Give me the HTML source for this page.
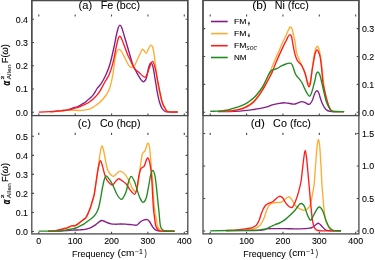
<!DOCTYPE html>
<html><head><meta charset="utf-8"><style>
html,body{margin:0;padding:0;background:#fff;}
body{width:375px;height:260px;overflow:hidden;}
svg{display:block;will-change:transform;}
text{font-family:"Liberation Sans",sans-serif;fill:#000;stroke:#000;stroke-width:0.06px;}
.tk{font-size:9.50px;stroke-width:0.1px;}
</style></head><body>
<svg width="375" height="260" viewBox="0 0 375 260">
<path d="M38.80 115.60V113.40 M38.80 14.40V16.60 M75.17 115.60V113.40 M75.17 14.40V16.60 M111.54 115.60V113.40 M111.54 14.40V16.60 M147.91 115.60V113.40 M147.91 14.40V16.60 M184.28 115.60V113.40 M184.28 14.40V16.60 M31.80 112.30H34.00 M187.80 112.30H185.60 M31.80 89.05H34.00 M187.80 89.05H185.60 M31.80 65.80H34.00 M187.80 65.80H185.60 M31.80 42.55H34.00 M187.80 42.55H185.60 M31.80 19.30H34.00 M187.80 19.30H185.60" stroke="#4a4a4a" stroke-width="1.1" fill="none"/>
<path d="M50.00 111.70 C51.00 111.62 54.00 111.38 56.00 111.20 C58.00 111.02 60.33 110.78 62.00 110.60 C63.67 110.42 64.53 110.37 66.00 110.10 C67.47 109.83 69.47 109.42 70.80 109.00 C72.13 108.58 72.92 107.97 74.00 107.60 C75.08 107.23 76.38 107.12 77.30 106.80 C78.22 106.48 78.78 106.12 79.50 105.70 C80.22 105.28 80.90 104.72 81.60 104.30 C82.30 103.88 83.05 103.55 83.70 103.20 C84.35 102.85 84.95 102.62 85.50 102.20 C86.05 101.78 86.22 101.38 87.00 100.70 C87.78 100.02 89.13 99.12 90.20 98.10 C91.27 97.08 92.53 95.72 93.40 94.60 C94.27 93.48 94.73 92.48 95.40 91.40 C96.07 90.32 96.57 89.23 97.40 88.10 C98.23 86.97 99.47 85.87 100.40 84.60 C101.33 83.33 102.10 82.10 103.00 80.50 C103.90 78.90 104.88 77.00 105.80 75.00 C106.72 73.00 107.67 70.83 108.50 68.50 C109.33 66.17 109.92 64.42 110.80 61.00 C111.68 57.58 112.90 52.17 113.80 48.00 C114.70 43.83 115.47 39.33 116.20 36.00 C116.93 32.67 117.58 29.80 118.20 28.00 C118.82 26.20 119.32 25.27 119.90 25.20 C120.48 25.13 120.97 25.80 121.70 27.60 C122.43 29.40 123.30 32.68 124.30 36.00 C125.30 39.32 126.37 42.97 127.70 47.50 C129.03 52.03 131.17 59.75 132.30 63.20 C133.43 66.65 133.45 66.08 134.50 68.20 C135.55 70.32 137.20 73.67 138.60 75.90 C140.00 78.13 141.63 81.15 142.90 81.60 C144.17 82.05 145.20 81.08 146.20 78.60 C147.20 76.12 148.10 69.32 148.90 66.70 C149.70 64.08 150.28 62.72 151.00 62.90 C151.72 63.08 152.38 64.28 153.20 67.80 C154.02 71.32 155.20 79.83 155.90 84.00 C156.60 88.17 156.78 89.72 157.40 92.80 C158.02 95.88 158.77 99.80 159.60 102.50 C160.43 105.20 161.40 107.47 162.40 109.00 C163.40 110.53 164.33 111.17 165.60 111.70 C166.87 112.23 167.97 112.12 170.00 112.20 C172.03 112.28 176.50 112.20 177.80 112.20" stroke="#851c88" stroke-width="1.35" fill="none" stroke-linejoin="round" stroke-linecap="butt"/>
<path d="M50.00 111.80 C51.00 111.73 54.00 111.57 56.00 111.40 C58.00 111.23 60.33 110.98 62.00 110.80 C63.67 110.62 64.53 110.43 66.00 110.30 C67.47 110.17 69.30 109.98 70.80 110.00 C72.30 110.02 73.63 110.32 75.00 110.40 C76.37 110.48 77.50 110.53 79.00 110.50 C80.50 110.47 82.67 110.33 84.00 110.20 C85.33 110.07 86.00 109.93 87.00 109.70 C88.00 109.47 89.12 109.15 90.00 108.80 C90.88 108.45 91.53 108.02 92.30 107.60 C93.07 107.18 93.87 106.77 94.60 106.30 C95.33 105.83 95.82 105.48 96.70 104.80 C97.58 104.12 98.88 103.13 99.90 102.20 C100.92 101.27 101.82 100.32 102.80 99.20 C103.78 98.08 104.90 96.78 105.80 95.50 C106.70 94.22 107.48 92.93 108.20 91.50 C108.92 90.07 109.32 89.73 110.10 86.90 C110.88 84.07 112.08 79.15 112.90 74.50 C113.72 69.85 114.35 62.83 115.00 59.00 C115.65 55.17 116.10 53.10 116.80 51.50 C117.50 49.90 118.42 49.40 119.20 49.40 C119.98 49.40 120.57 50.10 121.50 51.50 C122.43 52.90 123.53 55.40 124.80 57.80 C126.07 60.20 127.90 64.30 129.10 65.90 C130.30 67.50 131.13 67.35 132.00 67.40 C132.87 67.45 133.52 67.27 134.30 66.20 C135.08 65.13 135.62 63.32 136.70 61.00 C137.78 58.68 139.77 54.25 140.80 52.30 C141.83 50.35 142.00 49.13 142.90 49.30 C143.80 49.47 145.20 53.53 146.20 53.30 C147.20 53.07 148.10 49.25 148.90 47.90 C149.70 46.55 150.28 45.02 151.00 45.20 C151.72 45.38 152.57 46.57 153.20 49.00 C153.83 51.43 154.23 55.47 154.80 59.80 C155.37 64.13 155.97 70.30 156.60 75.00 C157.23 79.70 157.93 84.33 158.60 88.00 C159.27 91.67 159.92 94.33 160.60 97.00 C161.28 99.67 161.93 101.92 162.70 104.00 C163.47 106.08 164.38 108.22 165.20 109.50 C166.02 110.78 165.50 111.30 167.60 111.70 C169.70 112.10 176.10 111.87 177.80 111.90" stroke="#ffac33" stroke-width="1.35" fill="none" stroke-linejoin="round" stroke-linecap="butt"/>
<path d="M38.80 112.20 C40.67 112.12 47.13 111.85 50.00 111.70 C52.87 111.55 54.00 111.47 56.00 111.30 C58.00 111.13 60.33 110.87 62.00 110.70 C63.67 110.53 64.53 110.48 66.00 110.30 C67.47 110.12 69.47 109.93 70.80 109.60 C72.13 109.27 72.75 108.68 74.00 108.30 C75.25 107.92 77.03 107.70 78.30 107.30 C79.57 106.90 80.57 106.35 81.60 105.90 C82.63 105.45 83.60 105.00 84.50 104.60 C85.40 104.20 86.13 103.98 87.00 103.50 C87.87 103.02 88.82 102.32 89.70 101.70 C90.58 101.08 91.47 100.50 92.30 99.80 C93.13 99.10 93.97 98.23 94.70 97.50 C95.43 96.77 95.83 96.47 96.70 95.40 C97.57 94.33 99.05 92.40 99.90 91.10 C100.75 89.80 100.92 89.20 101.80 87.60 C102.68 86.00 103.97 83.68 105.20 81.50 C106.43 79.32 107.92 77.55 109.20 74.50 C110.48 71.45 111.73 67.78 112.90 63.20 C114.07 58.62 115.35 50.95 116.20 47.00 C117.05 43.05 117.47 41.25 118.00 39.50 C118.53 37.75 118.90 36.83 119.40 36.50 C119.90 36.17 120.10 35.75 121.00 37.50 C121.90 39.25 123.63 44.00 124.80 47.00 C125.97 50.00 127.13 53.42 128.00 55.50 C128.87 57.58 128.95 57.37 130.00 59.50 C131.05 61.63 132.87 66.20 134.30 68.30 C135.73 70.40 136.77 70.62 138.60 72.10 C140.43 73.58 143.58 77.73 145.30 77.20 C147.02 76.67 147.68 71.55 148.90 68.90 C150.12 66.25 151.48 61.12 152.60 61.30 C153.72 61.48 154.72 66.55 155.60 70.00 C156.48 73.45 157.15 78.20 157.90 82.00 C158.65 85.80 159.37 89.38 160.10 92.80 C160.83 96.22 161.38 99.80 162.30 102.50 C163.22 105.20 164.68 107.47 165.60 109.00 C166.52 110.53 165.77 111.22 167.80 111.70 C169.83 112.18 176.13 111.87 177.80 111.90" stroke="#ff1c1c" stroke-width="1.35" fill="none" stroke-linejoin="round" stroke-linecap="butt"/>
<rect x="31.80" y="0.00" width="156.00" height="115.60" fill="none" stroke="#4a4a4a" stroke-width="1.30"/>
<text transform="translate(28.00 115.65) scale(0.930 1)" text-anchor="end" class="tk">0.0</text>
<text transform="translate(28.00 92.40) scale(0.930 1)" text-anchor="end" class="tk">0.1</text>
<text transform="translate(28.00 69.15) scale(0.930 1)" text-anchor="end" class="tk">0.2</text>
<text transform="translate(28.00 45.90) scale(0.930 1)" text-anchor="end" class="tk">0.3</text>
<text transform="translate(28.00 22.65) scale(0.930 1)" text-anchor="end" class="tk">0.4</text>
<path d="M210.20 115.60V113.40 M210.20 14.40V16.60 M246.57 115.60V113.40 M246.57 14.40V16.60 M282.94 115.60V113.40 M282.94 14.40V16.60 M319.31 115.60V113.40 M319.31 14.40V16.60 M355.68 115.60V113.40 M355.68 14.40V16.60 M203.00 112.30H205.20 M358.90 112.30H356.70 M203.00 84.40H205.20 M358.90 84.40H356.70 M203.00 56.50H205.20 M358.90 56.50H356.70 M203.00 28.60H205.20 M358.90 28.60H356.70" stroke="#4a4a4a" stroke-width="1.1" fill="none"/>
<path d="M218.00 111.60 C220.00 111.60 226.40 111.68 230.00 111.60 C233.60 111.52 236.40 111.33 239.60 111.10 C242.80 110.87 246.80 110.47 249.20 110.20 C251.60 109.93 252.38 109.75 254.00 109.50 C255.62 109.25 257.40 108.97 258.90 108.70 C260.40 108.43 261.48 108.25 263.00 107.90 C264.52 107.55 266.45 107.10 268.00 106.60 C269.55 106.10 270.88 105.35 272.30 104.90 C273.72 104.45 274.37 104.25 276.50 103.90 C278.63 103.55 282.23 102.77 285.10 102.80 C287.97 102.83 291.55 104.10 293.70 104.10 C295.85 104.10 296.65 103.22 298.00 102.80 C299.35 102.38 300.53 101.60 301.80 101.60 C303.07 101.60 304.37 102.33 305.60 102.80 C306.83 103.27 308.08 104.78 309.20 104.40 C310.32 104.02 311.42 102.23 312.30 100.50 C313.18 98.77 313.77 95.62 314.50 94.00 C315.23 92.38 316.02 91.05 316.70 90.80 C317.38 90.55 317.98 91.25 318.60 92.50 C319.22 93.75 319.75 96.38 320.40 98.30 C321.05 100.22 321.60 102.17 322.50 104.00 C323.40 105.83 324.53 108.08 325.80 109.30 C327.07 110.52 327.05 110.92 330.10 111.30 C333.15 111.68 341.77 111.55 344.10 111.60" stroke="#851c88" stroke-width="1.35" fill="none" stroke-linejoin="round" stroke-linecap="butt"/>
<path d="M218.00 111.36 C219.43 111.32 224.10 111.24 226.60 111.10 C229.10 110.96 230.83 110.83 233.00 110.50 C235.17 110.17 237.70 109.63 239.60 109.10 C241.50 108.57 242.80 108.03 244.40 107.30 C246.00 106.57 247.58 105.82 249.20 104.70 C250.82 103.58 252.48 102.28 254.10 100.60 C255.72 98.92 257.58 96.45 258.90 94.60 C260.22 92.75 261.02 91.17 262.00 89.50 C262.98 87.83 263.77 86.77 264.80 84.60 C265.83 82.43 267.08 79.20 268.20 76.50 C269.32 73.80 270.55 70.73 271.50 68.40 C272.45 66.07 272.52 65.73 273.90 62.50 C275.28 59.27 278.32 52.42 279.80 49.00 C281.28 45.58 281.72 44.38 282.80 42.00 C283.88 39.62 285.33 36.78 286.30 34.70 C287.27 32.62 287.93 30.78 288.60 29.50 C289.27 28.22 289.73 27.08 290.30 27.00 C290.87 26.92 291.35 27.17 292.00 29.00 C292.65 30.83 293.62 35.33 294.20 38.00 C294.78 40.67 295.10 42.53 295.50 45.00 C295.90 47.47 295.93 50.25 296.60 52.80 C297.27 55.35 298.48 57.78 299.50 60.30 C300.52 62.82 301.70 65.45 302.70 67.90 C303.70 70.35 304.72 72.73 305.50 75.00 C306.28 77.27 306.82 79.92 307.40 81.50 C307.98 83.08 308.47 84.67 309.00 84.50 C309.53 84.33 310.05 83.25 310.60 80.50 C311.15 77.75 311.73 72.08 312.30 68.00 C312.87 63.92 313.45 59.17 314.00 56.00 C314.55 52.83 315.05 50.63 315.60 49.00 C316.15 47.37 316.73 46.20 317.30 46.20 C317.87 46.20 318.45 47.20 319.00 49.00 C319.55 50.80 320.10 53.83 320.60 57.00 C321.10 60.17 321.57 64.17 322.00 68.00 C322.43 71.83 322.73 76.20 323.20 80.00 C323.67 83.80 324.10 87.20 324.80 90.80 C325.50 94.40 326.53 98.60 327.40 101.60 C328.27 104.60 329.07 107.20 330.00 108.80 C330.93 110.40 330.65 110.73 333.00 111.20 C335.35 111.67 342.25 111.53 344.10 111.60" stroke="#ffac33" stroke-width="1.35" fill="none" stroke-linejoin="round" stroke-linecap="butt"/>
<path d="M218.00 111.36 C219.43 111.32 224.10 111.21 226.60 111.10 C229.10 110.99 230.83 110.98 233.00 110.70 C235.17 110.42 237.70 109.88 239.60 109.40 C241.50 108.92 242.80 108.47 244.40 107.80 C246.00 107.13 247.58 106.45 249.20 105.40 C250.82 104.35 252.48 103.12 254.10 101.50 C255.72 99.88 257.47 97.63 258.90 95.70 C260.33 93.77 261.62 91.65 262.70 89.90 C263.78 88.15 264.53 86.77 265.40 85.20 C266.27 83.63 266.75 82.72 267.90 80.50 C269.05 78.28 270.95 74.90 272.30 71.90 C273.65 68.90 274.22 66.67 276.00 62.50 C277.78 58.33 281.25 50.65 283.00 46.90 C284.75 43.15 285.58 41.82 286.50 40.00 C287.42 38.18 287.92 36.88 288.50 36.00 C289.08 35.12 289.50 34.62 290.00 34.70 C290.50 34.78 291.03 35.02 291.50 36.50 C291.97 37.98 292.28 40.88 292.80 43.60 C293.32 46.32 293.98 50.27 294.60 52.80 C295.22 55.33 295.92 57.32 296.50 58.80 C297.08 60.28 297.52 60.92 298.10 61.70 C298.68 62.48 299.37 62.82 300.00 63.50 C300.63 64.18 301.05 64.17 301.90 65.80 C302.75 67.43 304.20 70.52 305.10 73.30 C306.00 76.08 306.67 80.25 307.30 82.50 C307.93 84.75 308.38 86.72 308.90 86.80 C309.42 86.88 309.88 85.63 310.40 83.00 C310.92 80.37 311.48 74.50 312.00 71.00 C312.52 67.50 312.95 65.00 313.50 62.00 C314.05 59.00 314.70 55.02 315.30 53.00 C315.90 50.98 316.50 49.90 317.10 49.90 C317.70 49.90 318.37 51.65 318.90 53.00 C319.43 54.35 319.82 55.17 320.30 58.00 C320.78 60.83 321.37 65.92 321.80 70.00 C322.23 74.08 322.43 79.03 322.90 82.50 C323.37 85.97 323.87 87.62 324.60 90.80 C325.33 93.98 326.40 98.63 327.30 101.60 C328.20 104.57 329.05 106.98 330.00 108.60 C330.95 110.22 330.65 110.80 333.00 111.30 C335.35 111.80 342.25 111.55 344.10 111.60" stroke="#ff1c1c" stroke-width="1.35" fill="none" stroke-linejoin="round" stroke-linecap="butt"/>
<path d="M210.20 111.35 C212.03 111.27 218.47 111.11 221.20 110.90 C223.93 110.69 225.13 110.37 226.60 110.10 C228.07 109.83 228.63 109.68 230.00 109.30 C231.37 108.92 233.20 108.30 234.80 107.80 C236.40 107.30 238.00 106.87 239.60 106.30 C241.20 105.73 242.80 105.20 244.40 104.40 C246.00 103.60 247.58 102.63 249.20 101.50 C250.82 100.37 252.65 98.97 254.10 97.60 C255.55 96.23 256.73 94.73 257.90 93.30 C259.07 91.87 260.17 90.37 261.10 89.00 C262.03 87.63 262.68 86.60 263.50 85.10 C264.32 83.60 265.20 81.63 266.00 80.00 C266.80 78.37 267.60 76.63 268.30 75.30 C269.00 73.97 269.60 72.83 270.20 72.00 C270.80 71.17 271.27 70.72 271.90 70.30 C272.53 69.88 273.22 69.77 274.00 69.50 C274.78 69.23 275.27 69.33 276.60 68.70 C277.93 68.07 280.43 66.48 282.00 65.70 C283.57 64.92 284.75 64.43 286.00 64.00 C287.25 63.57 288.47 62.98 289.50 63.10 C290.53 63.22 291.22 62.90 292.20 64.70 C293.18 66.50 294.33 71.65 295.40 73.90 C296.47 76.15 297.52 76.77 298.60 78.20 C299.68 79.63 300.88 80.77 301.90 82.50 C302.92 84.23 303.77 86.68 304.70 88.60 C305.63 90.52 306.68 92.73 307.50 94.00 C308.32 95.27 308.93 96.37 309.60 96.20 C310.27 96.03 310.97 94.27 311.50 93.00 C312.03 91.73 312.22 90.77 312.80 88.60 C313.38 86.43 314.43 82.40 315.00 80.00 C315.57 77.60 315.73 75.53 316.20 74.20 C316.67 72.87 317.23 72.00 317.80 72.00 C318.37 72.00 319.03 72.87 319.60 74.20 C320.17 75.53 320.53 77.23 321.20 80.00 C321.87 82.77 322.75 87.20 323.60 90.80 C324.45 94.40 325.40 98.82 326.30 101.60 C327.20 104.38 328.18 105.97 329.00 107.50 C329.82 109.03 330.38 110.13 331.20 110.80 C332.02 111.47 331.75 111.37 333.90 111.50 C336.05 111.63 342.40 111.58 344.10 111.60" stroke="#218a21" stroke-width="1.35" fill="none" stroke-linejoin="round" stroke-linecap="butt"/>
<rect x="203.00" y="0.48" width="155.90" height="115.12" fill="none" stroke="#4a4a4a" stroke-width="1.30"/>
<text transform="translate(361.90 115.65) scale(0.930 1)" text-anchor="start" class="tk">0.0</text>
<text transform="translate(361.90 87.75) scale(0.930 1)" text-anchor="start" class="tk">0.1</text>
<text transform="translate(361.90 59.85) scale(0.930 1)" text-anchor="start" class="tk">0.2</text>
<text transform="translate(361.90 31.95) scale(0.930 1)" text-anchor="start" class="tk">0.3</text>
<path d="M38.80 233.90V231.70 M38.80 132.80V135.00 M75.17 233.90V231.70 M75.17 132.80V135.00 M111.54 233.90V231.70 M111.54 132.80V135.00 M147.91 233.90V231.70 M147.91 132.80V135.00 M184.28 233.90V231.70 M184.28 132.80V135.00 M31.80 231.50H34.00 M187.80 231.50H185.60 M31.80 212.46H34.00 M187.80 212.46H185.60 M31.80 193.42H34.00 M187.80 193.42H185.60 M31.80 174.38H34.00 M187.80 174.38H185.60 M31.80 155.34H34.00 M187.80 155.34H185.60 M31.80 136.30H34.00 M187.80 136.30H185.60" stroke="#4a4a4a" stroke-width="1.1" fill="none"/>
<path d="M48.00 231.11 C50.00 231.09 56.00 231.15 60.00 231.00 C64.00 230.85 68.67 230.40 72.00 230.20 C75.33 230.00 77.83 229.95 80.00 229.80 C82.17 229.65 83.27 229.63 85.00 229.30 C86.73 228.97 88.60 228.58 90.40 227.80 C92.20 227.02 94.28 225.63 95.80 224.60 C97.32 223.57 98.52 222.28 99.50 221.60 C100.48 220.92 100.98 220.60 101.70 220.50 C102.42 220.40 102.98 220.68 103.80 221.00 C104.62 221.32 105.42 221.93 106.60 222.40 C107.78 222.87 109.50 223.50 110.90 223.80 C112.30 224.10 113.42 224.17 115.00 224.20 C116.58 224.23 118.60 224.00 120.40 224.00 C122.20 224.00 124.00 224.08 125.80 224.20 C127.60 224.32 129.40 224.53 131.20 224.70 C133.00 224.87 135.30 225.45 136.60 225.20 C137.90 224.95 138.28 223.82 139.00 223.20 C139.72 222.58 140.05 222.05 140.90 221.50 C141.75 220.95 143.03 220.22 144.10 219.90 C145.17 219.58 146.40 219.33 147.30 219.60 C148.20 219.87 148.60 220.28 149.50 221.50 C150.40 222.72 151.77 225.55 152.70 226.90 C153.63 228.25 154.17 228.95 155.10 229.60 C156.03 230.25 156.65 230.53 158.30 230.80 C159.95 231.07 162.30 231.13 165.00 231.20 C167.70 231.27 172.92 231.20 174.50 231.20" stroke="#851c88" stroke-width="1.35" fill="none" stroke-linejoin="round" stroke-linecap="butt"/>
<path d="M48.00 231.08 C48.93 231.06 51.77 231.18 53.60 231.00 C55.43 230.82 57.22 230.42 59.00 230.00 C60.78 229.58 62.87 228.87 64.30 228.50 C65.73 228.13 66.37 228.23 67.60 227.80 C68.83 227.37 70.32 226.33 71.70 225.90 C73.08 225.47 74.30 225.98 75.90 225.20 C77.50 224.42 79.98 222.17 81.30 221.20 C82.62 220.23 83.00 220.03 83.80 219.40 C84.60 218.77 85.33 218.53 86.10 217.40 C86.87 216.27 87.63 214.38 88.40 212.60 C89.17 210.82 90.03 208.63 90.70 206.70 C91.37 204.77 91.82 203.02 92.40 201.00 C92.98 198.98 93.67 197.18 94.20 194.60 C94.73 192.02 95.07 189.08 95.60 185.50 C96.13 181.92 96.87 176.77 97.40 173.10 C97.93 169.43 98.32 167.02 98.80 163.50 C99.28 159.98 99.78 154.92 100.30 152.00 C100.82 149.08 101.37 146.33 101.90 146.00 C102.43 145.67 102.97 148.00 103.50 150.00 C104.03 152.00 104.63 155.58 105.10 158.00 C105.57 160.42 105.83 162.42 106.30 164.50 C106.77 166.58 107.15 168.78 107.90 170.50 C108.65 172.22 109.87 173.83 110.80 174.80 C111.73 175.77 112.55 176.47 113.50 176.30 C114.45 176.13 115.57 174.58 116.50 173.80 C117.43 173.02 118.13 171.90 119.10 171.60 C120.07 171.30 121.22 171.40 122.30 172.00 C123.38 172.60 124.57 173.90 125.60 175.20 C126.63 176.50 127.68 178.33 128.50 179.80 C129.32 181.27 129.83 182.55 130.50 184.00 C131.17 185.45 131.65 187.23 132.50 188.50 C133.35 189.77 134.78 191.77 135.60 191.60 C136.42 191.43 136.90 189.27 137.40 187.50 C137.90 185.73 138.23 183.58 138.60 181.00 C138.97 178.42 139.23 175.00 139.60 172.00 C139.97 169.00 140.33 166.02 140.80 163.00 C141.27 159.98 141.68 155.97 142.40 153.90 C143.12 151.83 144.33 152.13 145.10 150.60 C145.87 149.07 146.47 145.93 147.00 144.70 C147.53 143.47 147.87 142.73 148.30 143.20 C148.73 143.67 149.22 145.03 149.60 147.50 C149.98 149.97 150.28 154.25 150.60 158.00 C150.92 161.75 151.18 166.33 151.50 170.00 C151.82 173.67 152.18 175.83 152.50 180.00 C152.82 184.17 153.12 190.67 153.40 195.00 C153.68 199.33 153.92 203.00 154.20 206.00 C154.48 209.00 154.77 210.95 155.10 213.00 C155.43 215.05 155.83 216.25 156.20 218.30 C156.57 220.35 156.77 223.42 157.30 225.30 C157.83 227.18 158.62 228.65 159.40 229.60 C160.18 230.55 159.48 230.75 162.00 231.00 C164.52 231.25 172.42 231.08 174.50 231.10" stroke="#ffac33" stroke-width="1.35" fill="none" stroke-linejoin="round" stroke-linecap="butt"/>
<path d="M48.00 231.08 C48.93 231.06 51.77 231.18 53.60 231.00 C55.43 230.82 57.22 230.42 59.00 230.00 C60.78 229.58 62.88 228.87 64.30 228.50 C65.72 228.13 66.28 228.23 67.50 227.80 C68.72 227.37 70.20 226.32 71.60 225.90 C73.00 225.48 74.28 226.08 75.90 225.30 C77.52 224.52 79.98 222.18 81.30 221.20 C82.62 220.22 83.00 220.03 83.80 219.40 C84.60 218.77 85.33 218.53 86.10 217.40 C86.87 216.27 87.63 214.38 88.40 212.60 C89.17 210.82 90.03 208.63 90.70 206.70 C91.37 204.77 91.82 203.02 92.40 201.00 C92.98 198.98 93.67 197.18 94.20 194.60 C94.73 192.02 95.07 189.08 95.60 185.50 C96.13 181.92 96.83 176.60 97.40 173.10 C97.97 169.60 98.48 166.58 99.00 164.50 C99.52 162.42 99.97 160.52 100.50 160.60 C101.03 160.68 101.57 162.92 102.20 165.00 C102.83 167.08 103.68 170.95 104.30 173.10 C104.92 175.25 105.40 176.65 105.90 177.90 C106.40 179.15 106.63 179.68 107.30 180.60 C107.97 181.52 109.02 182.67 109.90 183.40 C110.78 184.13 111.67 185.32 112.60 185.00 C113.53 184.68 114.52 182.53 115.50 181.50 C116.48 180.47 117.48 178.98 118.50 178.80 C119.52 178.62 120.28 179.50 121.60 180.40 C122.92 181.30 124.97 182.58 126.40 184.20 C127.83 185.82 128.85 188.42 130.20 190.10 C131.55 191.78 133.45 194.23 134.50 194.30 C135.55 194.37 135.98 192.22 136.50 190.50 C137.02 188.78 137.22 186.37 137.60 184.00 C137.98 181.63 138.25 178.83 138.80 176.30 C139.35 173.77 140.00 170.50 140.90 168.80 C141.80 167.10 143.30 167.53 144.20 166.10 C145.10 164.67 145.73 161.58 146.30 160.20 C146.87 158.82 147.15 157.83 147.60 157.80 C148.05 157.77 148.58 158.88 149.00 160.00 C149.42 161.12 149.73 162.50 150.10 164.50 C150.47 166.50 150.87 168.58 151.20 172.00 C151.53 175.42 151.82 180.33 152.10 185.00 C152.38 189.67 152.63 195.67 152.90 200.00 C153.17 204.33 153.42 208.03 153.70 211.00 C153.98 213.97 154.28 215.42 154.60 217.80 C154.92 220.18 155.07 223.33 155.60 225.30 C156.13 227.27 156.80 228.62 157.80 229.60 C158.80 230.58 158.82 230.93 161.60 231.20 C164.38 231.47 172.35 231.20 174.50 231.20" stroke="#ff1c1c" stroke-width="1.35" fill="none" stroke-linejoin="round" stroke-linecap="butt"/>
<path d="M38.80 231.20 C41.27 231.18 49.35 231.25 53.60 231.10 C57.85 230.95 61.25 230.67 64.30 230.30 C67.35 229.93 69.97 229.28 71.90 228.90 C73.83 228.52 74.17 228.67 75.90 228.00 C77.63 227.33 80.78 225.70 82.30 224.90 C83.82 224.10 84.18 223.75 85.00 223.20 C85.82 222.65 86.07 222.43 87.20 221.60 C88.33 220.77 90.45 219.35 91.80 218.20 C93.15 217.05 94.23 216.25 95.30 214.70 C96.37 213.15 97.43 211.00 98.20 208.90 C98.97 206.80 99.40 204.42 99.90 202.10 C100.40 199.78 100.75 197.52 101.20 195.00 C101.65 192.48 102.08 189.58 102.60 187.00 C103.12 184.42 103.70 181.35 104.30 179.50 C104.90 177.65 105.30 175.83 106.20 175.90 C107.10 175.97 108.58 178.35 109.70 179.90 C110.82 181.45 111.63 182.68 112.90 185.20 C114.17 187.72 115.85 192.65 117.30 195.00 C118.75 197.35 120.17 199.75 121.60 199.30 C123.03 198.85 124.73 195.27 125.90 192.30 C127.07 189.33 127.72 184.17 128.60 181.50 C129.48 178.83 130.22 176.30 131.20 176.30 C132.18 176.30 133.50 179.20 134.50 181.50 C135.50 183.80 136.28 187.33 137.20 190.10 C138.12 192.87 139.00 196.05 140.00 198.10 C141.00 200.15 142.12 202.58 143.20 202.40 C144.28 202.22 145.50 200.23 146.50 197.00 C147.50 193.77 148.52 186.63 149.20 183.00 C149.88 179.37 150.00 177.30 150.60 175.20 C151.20 173.10 152.10 170.40 152.80 170.40 C153.50 170.40 154.23 172.77 154.80 175.20 C155.37 177.63 155.78 181.55 156.20 185.00 C156.62 188.45 156.85 191.57 157.30 195.90 C157.75 200.23 158.37 205.92 158.90 211.00 C159.43 216.08 159.78 223.20 160.50 226.40 C161.22 229.60 162.28 229.43 163.20 230.20 C164.12 230.97 164.12 230.85 166.00 231.00 C167.88 231.15 173.08 231.08 174.50 231.10" stroke="#218a21" stroke-width="1.35" fill="none" stroke-linejoin="round" stroke-linecap="butt"/>
<rect x="31.80" y="0.62" width="156.00" height="233.28" fill="none" stroke="#4a4a4a" stroke-width="1.30"/>
<text transform="translate(28.00 234.85) scale(0.930 1)" text-anchor="end" class="tk">0.0</text>
<text transform="translate(28.00 215.81) scale(0.930 1)" text-anchor="end" class="tk">0.1</text>
<text transform="translate(28.00 196.77) scale(0.930 1)" text-anchor="end" class="tk">0.2</text>
<text transform="translate(28.00 177.73) scale(0.930 1)" text-anchor="end" class="tk">0.3</text>
<text transform="translate(28.00 158.69) scale(0.930 1)" text-anchor="end" class="tk">0.4</text>
<text transform="translate(28.00 139.65) scale(0.930 1)" text-anchor="end" class="tk">0.5</text>
<text transform="translate(38.80 243.90) scale(0.930 1)" text-anchor="middle" class="tk">0</text>
<text transform="translate(75.17 243.90) scale(0.930 1)" text-anchor="middle" class="tk">100</text>
<text transform="translate(111.54 243.90) scale(0.930 1)" text-anchor="middle" class="tk">200</text>
<text transform="translate(147.91 243.90) scale(0.930 1)" text-anchor="middle" class="tk">300</text>
<text transform="translate(184.28 243.90) scale(0.930 1)" text-anchor="middle" class="tk">400</text>
<path d="M210.20 233.90V231.70 M210.20 132.80V135.00 M246.57 233.90V231.70 M246.57 132.80V135.00 M282.94 233.90V231.70 M282.94 132.80V135.00 M319.31 233.90V231.70 M319.31 132.80V135.00 M355.68 233.90V231.70 M355.68 132.80V135.00 M203.00 231.00H205.20 M358.90 231.00H356.70 M203.00 198.50H205.20 M358.90 198.50H356.70 M203.00 166.00H205.20 M358.90 166.00H356.70 M203.00 133.50H205.20 M358.90 133.50H356.70" stroke="#4a4a4a" stroke-width="1.1" fill="none"/>
<path d="M226.00 230.64 C231.67 230.58 253.23 230.59 260.00 230.30 C266.77 230.01 264.60 229.18 266.60 228.90 C268.60 228.62 268.95 228.65 272.00 228.60 C275.05 228.55 281.07 228.55 284.90 228.60 C288.73 228.65 291.52 228.90 295.00 228.90 C298.48 228.90 303.30 228.73 305.80 228.60 C308.30 228.47 308.92 228.30 310.00 228.10 C311.08 227.90 311.38 227.92 312.30 227.40 C313.22 226.88 314.43 225.68 315.50 225.00 C316.57 224.32 317.62 223.07 318.70 223.30 C319.78 223.53 320.92 225.35 322.00 226.40 C323.08 227.45 324.13 228.88 325.20 229.60 C326.27 230.32 325.77 230.52 328.40 230.70 C331.03 230.88 338.90 230.70 341.00 230.70" stroke="#851c88" stroke-width="1.35" fill="none" stroke-linejoin="round" stroke-linecap="butt"/>
<path d="M226.00 230.61 C227.50 230.59 231.57 230.65 235.00 230.50 C238.43 230.35 243.23 230.05 246.60 229.70 C249.97 229.35 253.05 229.05 255.20 228.40 C257.35 227.75 258.33 226.87 259.50 225.80 C260.67 224.73 261.38 223.43 262.20 222.00 C263.02 220.57 263.63 219.22 264.40 217.20 C265.17 215.18 266.07 211.80 266.80 209.90 C267.53 208.00 267.95 206.92 268.80 205.80 C269.65 204.68 270.67 203.73 271.90 203.20 C273.13 202.67 274.58 202.78 276.20 202.60 C277.82 202.42 280.17 202.63 281.60 202.10 C283.03 201.57 283.63 200.28 284.80 199.40 C285.97 198.52 287.52 196.88 288.60 196.80 C289.68 196.72 290.32 197.65 291.30 198.90 C292.28 200.15 293.47 202.85 294.50 204.30 C295.53 205.75 296.45 206.75 297.50 207.60 C298.55 208.45 299.72 208.95 300.80 209.40 C301.88 209.85 303.05 210.27 304.00 210.30 C304.95 210.33 305.67 210.12 306.50 209.60 C307.33 209.08 308.32 208.13 309.00 207.20 C309.68 206.27 310.08 205.83 310.60 204.00 C311.12 202.17 311.53 199.28 312.10 196.20 C312.67 193.12 313.50 189.53 314.00 185.50 C314.50 181.47 314.75 176.58 315.10 172.00 C315.45 167.42 315.75 162.50 316.10 158.00 C316.45 153.50 316.82 148.08 317.20 145.00 C317.58 141.92 318.00 139.50 318.40 139.50 C318.80 139.50 319.25 141.92 319.60 145.00 C319.95 148.08 320.22 153.50 320.50 158.00 C320.78 162.50 321.05 167.42 321.30 172.00 C321.55 176.58 321.73 181.47 322.00 185.50 C322.27 189.53 322.63 192.95 322.90 196.20 C323.17 199.45 323.22 201.38 323.60 205.00 C323.98 208.62 324.70 214.92 325.20 217.90 C325.70 220.88 325.82 221.02 326.60 222.90 C327.38 224.78 328.82 227.92 329.90 229.20 C330.98 230.48 331.25 230.35 333.10 230.60 C334.95 230.85 339.68 230.68 341.00 230.70" stroke="#ffac33" stroke-width="1.35" fill="none" stroke-linejoin="round" stroke-linecap="butt"/>
<path d="M226.00 230.55 C227.63 230.48 232.98 230.33 235.80 230.10 C238.62 229.87 241.10 229.43 242.90 229.20 C244.70 228.97 245.17 228.92 246.60 228.70 C248.03 228.48 250.35 228.18 251.50 227.90 C252.65 227.62 252.72 227.42 253.50 227.00 C254.28 226.58 255.28 226.47 256.20 225.40 C257.12 224.33 258.18 222.45 259.00 220.60 C259.82 218.75 260.43 216.15 261.10 214.30 C261.77 212.45 262.25 211.00 263.00 209.50 C263.75 208.00 264.70 206.32 265.60 205.30 C266.50 204.28 267.30 203.95 268.40 203.40 C269.50 202.85 271.08 202.63 272.20 202.00 C273.32 201.37 273.90 200.55 275.10 199.60 C276.30 198.65 278.15 196.60 279.40 196.30 C280.65 196.00 281.52 196.65 282.60 197.80 C283.68 198.95 284.83 201.75 285.90 203.20 C286.97 204.65 287.93 205.80 289.00 206.50 C290.07 207.20 291.23 208.22 292.30 207.40 C293.37 206.58 294.35 204.18 295.40 201.60 C296.45 199.02 297.65 195.33 298.60 191.90 C299.55 188.47 300.47 184.65 301.10 181.00 C301.73 177.35 301.95 173.83 302.40 170.00 C302.85 166.17 303.33 161.25 303.80 158.00 C304.27 154.75 304.73 150.50 305.20 150.50 C305.67 150.50 306.18 154.75 306.60 158.00 C307.02 161.25 307.28 165.42 307.70 170.00 C308.12 174.58 308.63 180.23 309.10 185.50 C309.57 190.77 310.10 197.18 310.50 201.60 C310.90 206.02 311.20 209.10 311.50 212.00 C311.80 214.90 311.90 216.57 312.30 219.00 C312.70 221.43 313.18 224.73 313.90 226.60 C314.62 228.47 315.25 229.50 316.60 230.20 C317.95 230.90 317.93 230.70 322.00 230.80 C326.07 230.90 337.83 230.80 341.00 230.80" stroke="#ff1c1c" stroke-width="1.35" fill="none" stroke-linejoin="round" stroke-linecap="butt"/>
<path d="M210.20 230.80 C216.00 230.72 237.15 230.42 245.00 230.30 C252.85 230.18 254.60 230.22 257.30 230.10 C260.00 229.98 259.65 229.85 261.20 229.60 C262.75 229.35 265.08 229.05 266.60 228.60 C268.12 228.15 269.27 227.38 270.30 226.90 C271.33 226.42 271.98 226.08 272.80 225.70 C273.62 225.32 273.95 225.12 275.20 224.60 C276.45 224.08 278.65 223.43 280.30 222.60 C281.95 221.77 283.22 221.07 285.10 219.60 C286.98 218.13 289.95 215.37 291.60 213.80 C293.25 212.23 294.02 211.37 295.00 210.20 C295.98 209.03 296.75 207.78 297.50 206.80 C298.25 205.82 298.87 204.85 299.50 204.30 C300.13 203.75 300.70 203.47 301.30 203.50 C301.90 203.53 302.53 203.92 303.10 204.50 C303.67 205.08 304.02 205.38 304.70 207.00 C305.38 208.62 306.30 212.03 307.20 214.20 C308.10 216.37 309.30 219.30 310.10 220.00 C310.90 220.70 311.37 219.28 312.00 218.40 C312.63 217.52 312.97 216.40 313.90 214.70 C314.83 213.00 316.53 209.43 317.60 208.20 C318.67 206.97 319.40 206.75 320.30 207.30 C321.20 207.85 322.00 209.18 323.00 211.50 C324.00 213.82 325.22 218.52 326.30 221.20 C327.38 223.88 328.37 226.07 329.50 227.60 C330.63 229.13 331.15 229.88 333.10 230.40 C335.05 230.92 339.85 230.65 341.20 230.70" stroke="#218a21" stroke-width="1.35" fill="none" stroke-linejoin="round" stroke-linecap="butt"/>
<rect x="203.00" y="0.09" width="155.90" height="233.81" fill="none" stroke="#4a4a4a" stroke-width="1.30"/>
<text transform="translate(361.90 234.35) scale(0.930 1)" text-anchor="start" class="tk">0.0</text>
<text transform="translate(361.90 201.85) scale(0.930 1)" text-anchor="start" class="tk">0.5</text>
<text transform="translate(361.90 169.35) scale(0.930 1)" text-anchor="start" class="tk">1.0</text>
<text transform="translate(361.90 136.85) scale(0.930 1)" text-anchor="start" class="tk">1.5</text>
<text transform="translate(210.20 243.90) scale(0.930 1)" text-anchor="middle" class="tk">0</text>
<text transform="translate(246.57 243.90) scale(0.930 1)" text-anchor="middle" class="tk">100</text>
<text transform="translate(282.94 243.90) scale(0.930 1)" text-anchor="middle" class="tk">200</text>
<text transform="translate(319.31 243.90) scale(0.930 1)" text-anchor="middle" class="tk">300</text>
<text transform="translate(355.68 243.90) scale(0.930 1)" text-anchor="middle" class="tk">400</text>
<g transform="translate(78.537 8.708) scale(1.0609 0.9846)"><text font-size="10.50">(a)</text></g>
<g transform="translate(100.706 8.708) scale(1.0216 0.9846)"><text font-size="10.50">Fe (bcc)</text></g>
<g transform="translate(252.293 8.708) scale(1.1304 0.9846)"><text font-size="10.50">(b)</text></g>
<g transform="translate(274.702 8.708) scale(1.0268 0.9846)"><text font-size="10.50">Ni (fcc)</text></g>
<g transform="translate(77.830 127.064) scale(1.0727 1.0051)"><text font-size="10.50">(c)</text></g>
<g transform="translate(99.996 127.064) scale(1.0070 1.0051)"><text font-size="10.50">Co (hcp)</text></g>
<g transform="translate(250.715 127.064) scale(1.0957 1.0051)"><text font-size="10.50">(d)</text></g>
<g transform="translate(273.085 127.064) scale(1.0302 1.0051)"><text font-size="10.50">Co (fcc)</text></g>
<g transform="translate(9.585 85.567) rotate(-90) scale(0.6691 0.9167)"><text font-size="11" font-style="italic" font-weight="bold" style="stroke-width:0.3px">&#945;</text></g>
<g transform="translate(4.200 79.456) rotate(-90) scale(1.4222 0.8593)"><text font-size="4.8" style="stroke-width:0.2px">2</text></g>
<g transform="translate(11.095 79.600) rotate(-90) scale(0.9719 0.8381)"><text font-size="7" style="stroke-width:0.12px;fill:#222;stroke:#222">Allen</text></g>
<g transform="translate(7.920 63.227) rotate(-90) scale(0.9699 0.8901)"><text font-size="9.5" style="stroke-width:0.22px">F(<tspan font-style="italic">&#969;</tspan>)</text></g>
<g transform="translate(9.585 204.267) rotate(-90) scale(0.6691 0.9167)"><text font-size="11" font-style="italic" font-weight="bold" style="stroke-width:0.3px">&#945;</text></g>
<g transform="translate(4.200 198.156) rotate(-90) scale(1.4222 0.8593)"><text font-size="4.8" style="stroke-width:0.2px">2</text></g>
<g transform="translate(11.095 198.300) rotate(-90) scale(0.9719 0.8381)"><text font-size="7" style="stroke-width:0.12px;fill:#222;stroke:#222">Allen</text></g>
<g transform="translate(7.920 181.927) rotate(-90) scale(0.9699 0.8901)"><text font-size="9.5" style="stroke-width:0.22px">F(<tspan font-style="italic">&#969;</tspan>)</text></g>
<g transform="translate(72.049 257.202) scale(1.0012 1.0125)"><text font-size="9.00">Frequency</text></g>
<g transform="translate(117.538 256.499) scale(1.1243 0.9075)"><text font-size="9.00">(cm</text></g>
<g transform="translate(134.894 253.700) scale(1.0815 0.9778)"><text font-size="6.50">&#8722;1</text></g>
<g transform="translate(144.406 256.499) scale(0.7556 0.9075)"><text font-size="9.00">)</text></g>
<g transform="translate(243.349 257.202) scale(1.0012 1.0125)"><text font-size="9.00">Frequency</text></g>
<g transform="translate(288.838 256.499) scale(1.1243 0.9075)"><text font-size="9.00">(cm</text></g>
<g transform="translate(306.194 253.700) scale(1.0815 0.9778)"><text font-size="6.50">&#8722;1</text></g>
<g transform="translate(315.706 256.499) scale(0.7556 0.9075)"><text font-size="9.00">)</text></g>
<path d="M211.0 21.50H227.7" stroke="#851c88" stroke-width="1.6"/>
<path d="M211.0 33.60H227.7" stroke="#ffac33" stroke-width="1.6"/>
<path d="M211.0 45.70H227.7" stroke="#ff1c1c" stroke-width="1.6"/>
<path d="M211.0 57.50H227.7" stroke="#218a21" stroke-width="1.6"/>
<g transform="translate(233.947 24.300) scale(1.0447 0.9739)"><text font-size="8.30" style="stroke-width:0.1px">FM</text></g>
<g transform="translate(233.947 36.100) scale(1.0447 0.9565)"><text font-size="8.30" style="stroke-width:0.1px">FM</text></g>
<g transform="translate(233.947 48.100) scale(1.0447 0.9565)"><text font-size="8.30" style="stroke-width:0.1px">FM</text></g>
<g transform="translate(233.992 59.900) scale(0.9720 0.9391)"><text font-size="8.30" style="stroke-width:0.1px">NM</text></g>
<g transform="translate(246.200 49.874) scale(0.8727 1.0057)"><text font-size="8.00" font-style="italic" style="stroke-width:0;fill:#222">soc</text></g>
<path d="M248.9 25.7V23.2" stroke="#333" stroke-width="0.9" fill="none"/><path d="M247.7 23.8L248.9 21.6L250.1 23.8Z" fill="#222"/>
<path d="M248.9 33.4V35.9" stroke="#333" stroke-width="0.9" fill="none"/><path d="M247.7 35.3L248.9 37.5L250.1 35.3Z" fill="#222"/>
</svg>
</body></html>
